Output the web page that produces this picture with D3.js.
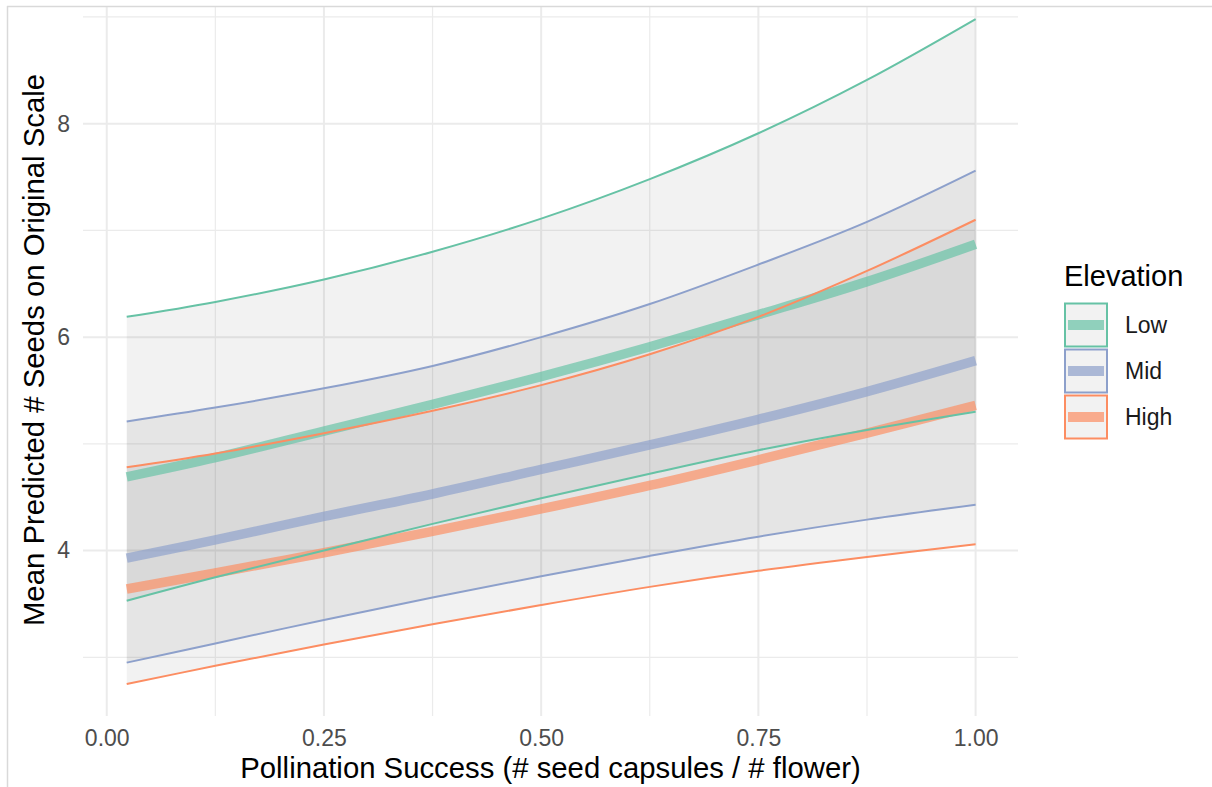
<!DOCTYPE html>
<html>
<head>
<meta charset="utf-8">
<script src="https://cdn.jsdelivr.net/npm/d3@7"></script>
<style>
  body { margin: 0; background: #fff; }
  svg { display: block; }
  text { font-family: "Liberation Sans", Arial, Helvetica, sans-serif; }
</style>
</head>
<body>
<svg id="chart" width="1212" height="787"></svg>
<script>
// Pollination success values at which predictions were made
const pollination = [0.023, 0.125, 0.25, 0.375, 0.5, 0.625, 0.75, 0.875, 1.0];

// Elevation groups
const elevations = ["Low", "Mid", "High"];

// Predicted mean seeds and confidence bounds per elevation
const lowUpper  = [6.19, 6.33, 6.54, 6.80, 7.11, 7.48, 7.91, 8.41, 8.98];
const lowMean   = [4.69, 4.87, 5.12, 5.37, 5.63, 5.91, 6.21, 6.52, 6.87];
const lowLower  = [3.53, 3.75, 4.00, 4.25, 4.49, 4.72, 4.94, 5.13, 5.30];

const midUpper  = [5.21, 5.34, 5.52, 5.73, 6.00, 6.31, 6.68, 7.08, 7.56];
const midMean   = [3.93, 4.10, 4.32, 4.53, 4.76, 4.99, 5.23, 5.49, 5.78];
const midLower  = [2.95, 3.13, 3.35, 3.56, 3.76, 3.95, 4.13, 4.29, 4.43];

const highUpper = [4.78, 4.91, 5.10, 5.31, 5.55, 5.84, 6.19, 6.62, 7.10];
const highMean  = [3.64, 3.79, 3.98, 4.18, 4.39, 4.61, 4.85, 5.10, 5.36];
const highLower = [2.75, 2.92, 3.12, 3.31, 3.49, 3.66, 3.81, 3.94, 4.06];

// Axis ticks
const xTicks = [0, 0.25, 0.5, 0.75, 1];
const xMinorTicks = [0.125, 0.375, 0.625, 0.875];
const yTicks = [4, 6, 8];
const yMinorTicks = [3, 5, 7, 9];

const palette = ["#66c2a5", "#8da0cb", "#fc8d62"];

const series = elevations.map((name, i) => ({
  name,
  color: palette[i],
  upper: [lowUpper, midUpper, highUpper][i],
  mean: [lowMean, midMean, highMean][i],
  lower: [lowLower, midLower, highLower][i]
}));

const svg = d3.select("#chart");

// Panel geometry
const panel = { left: 83, right: 1018, top: 7, bottom: 716 };

const x = d3.scaleLinear().domain([-0.0273, 1.0488]).range([panel.left, panel.right]);
const y = d3.scaleLinear().domain([2.45, 9.29]).range([716, -14]);

svg.append("defs").append("clipPath").attr("id", "panel-clip")
  .append("rect")
  .attr("x", panel.left).attr("y", panel.top)
  .attr("width", panel.right - panel.left)
  .attr("height", panel.bottom - panel.top);

const plot = svg.append("g").attr("clip-path", "url(#panel-clip)");

// Grid lines
const gridColor = "#ebebeb";
plot.selectAll("line.xminor").data(xMinorTicks).join("line")
  .attr("x1", d => x(d)).attr("x2", d => x(d))
  .attr("y1", panel.top).attr("y2", panel.bottom)
  .attr("stroke", gridColor).attr("stroke-width", 1.2);
plot.selectAll("line.yminor").data(yMinorTicks).join("line")
  .attr("x1", panel.left).attr("x2", panel.right)
  .attr("y1", d => y(d)).attr("y2", d => y(d))
  .attr("stroke", gridColor).attr("stroke-width", 1.2);
plot.selectAll("line.xmajor").data(xTicks).join("line")
  .attr("x1", d => x(d)).attr("x2", d => x(d))
  .attr("y1", panel.top).attr("y2", panel.bottom)
  .attr("stroke", gridColor).attr("stroke-width", 2);
plot.selectAll("line.ymajor").data(yTicks).join("line")
  .attr("x1", panel.left).attr("x2", panel.right)
  .attr("y1", d => y(d)).attr("y2", d => y(d))
  .attr("stroke", gridColor).attr("stroke-width", 2);

// Confidence ribbons
const smooth = d3.curveCatmullRom.alpha(0.5);

const ribbon = d3.area()
  .x(d => x(d.p))
  .y0(d => y(d.lo))
  .y1(d => y(d.hi))
  .curve(smooth);

const curve = key => d3.line()
  .x(d => x(d.p))
  .y(d => y(d[key]))
  .curve(smooth);

const rows = s => pollination.map((p, j) => ({ p, lo: s.lower[j], hi: s.upper[j], mid: s.mean[j] }));

const ribbonAlpha = 0.052;
series.forEach(s => {
  plot.append("path").datum(rows(s))
    .attr("d", ribbon)
    .attr("fill", "#000").attr("fill-opacity", ribbonAlpha);
});

// Mean predictions
series.forEach(s => {
  plot.append("path").datum(rows(s))
    .attr("d", curve("mid"))
    .attr("fill", "none")
    .attr("stroke", s.color).attr("stroke-opacity", 0.68)
    .attr("stroke-width", 9.5);
});

// Ribbon outlines (upper and lower bounds)
series.forEach(s => {
  ["hi", "lo"].forEach(k => {
    plot.append("path").datum(rows(s))
      .attr("d", curve(k))
      .attr("fill", "none")
      .attr("stroke", s.color)
      .attr("stroke-width", 2);
  });
});

// Axes
const tickColor = "#4d4d4d";
const xAxis = svg.append("g")
  .attr("transform", `translate(0,${panel.bottom})`)
  .call(d3.axisBottom(x).tickValues(xTicks).tickFormat(d3.format(".2f")).tickSize(0).tickPadding(14));
const yAxis = svg.append("g")
  .attr("transform", `translate(${panel.left},0)`)
  .call(d3.axisLeft(y).tickValues(yTicks).tickFormat(d3.format("d")).tickSize(0).tickPadding(13));
[xAxis, yAxis].forEach(a => {
  a.select(".domain").remove();
  a.selectAll("text")
    .attr("fill", tickColor)
    .style("font-size", "23px")
    .style("font-family", "'Liberation Sans', Arial, sans-serif");
});

// Axis titles
svg.append("text")
  .attr("x", (panel.left + panel.right) / 2).attr("y", 778)
  .attr("text-anchor", "middle")
  .attr("fill", "#000")
  .style("font-size", "29.3px")
  .text("Pollination Success (# seed capsules / # flower)");

svg.append("text")
  .attr("transform", "translate(44,350) rotate(-90)")
  .attr("text-anchor", "middle")
  .attr("fill", "#000")
  .style("font-size", "29.3px")
  .text("Mean Predicted # Seeds on Original Scale");

// Legend
const legend = svg.append("g").attr("transform", "translate(1064,0)");
legend.append("text")
  .attr("x", 0).attr("y", 286)
  .attr("fill", "#000")
  .style("font-size", "29px")
  .text("Elevation");

const keySize = 46;
const keyTop = 302;
series.forEach((s, i) => {
  const g = legend.append("g").attr("transform", `translate(0,${keyTop + i * keySize})`);
  g.append("rect")
    .attr("x", 1).attr("y", 1.5)
    .attr("width", 42).attr("height", keySize - 3)
    .attr("fill", "#000").attr("fill-opacity", ribbonAlpha)
    .attr("stroke", s.color).attr("stroke-width", 2);
  g.append("line")
    .attr("x1", 4).attr("x2", 40)
    .attr("y1", keySize / 2).attr("y2", keySize / 2)
    .attr("stroke", s.color).attr("stroke-opacity", 0.7)
    .attr("stroke-width", 10);
  g.append("text")
    .attr("x", 61).attr("y", keySize / 2)
    .attr("dy", "0.36em")
    .attr("fill", "#1a1a1a")
    .style("font-size", "23px")
    .text(s.name);
});

// Outer frame
svg.append("line").attr("x1", 7).attr("x2", 1212).attr("y1", 6.5).attr("y2", 6.5)
  .attr("stroke", "#d9d9d9").attr("stroke-width", 1.5);
svg.append("line").attr("x1", 7.5).attr("x2", 7.5).attr("y1", 6).attr("y2", 787)
  .attr("stroke", "#d9d9d9").attr("stroke-width", 1.5);
</script>
</body>
</html>
